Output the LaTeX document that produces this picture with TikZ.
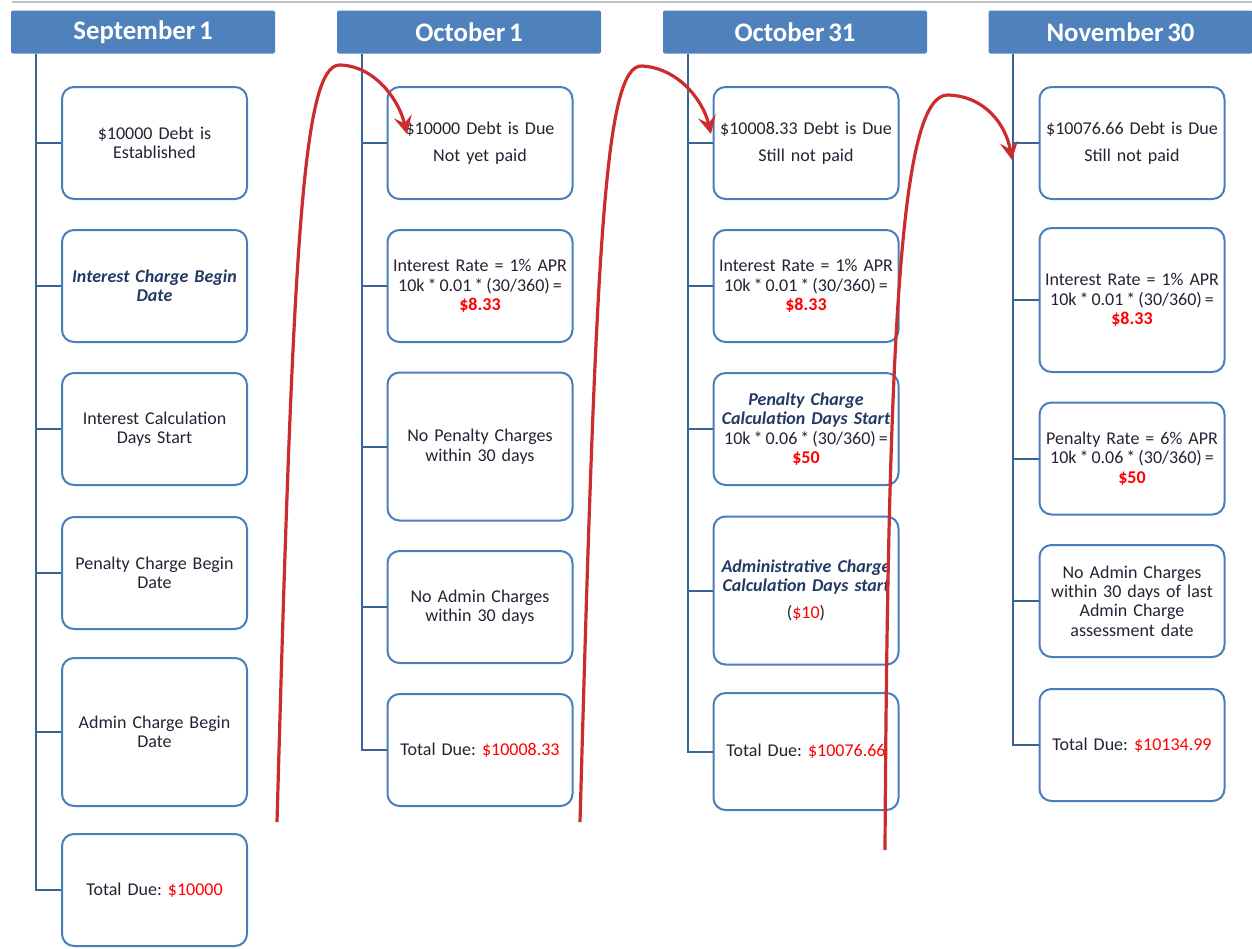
\documentclass[tikz,border=0pt]{standalone}
\usepackage{fontspec}
\setmainfont{Carlito}[WordSpace=0.6]
\usetikzlibrary{arrows.meta}
\frenchspacing

\definecolor{hdrblue}{RGB}{79,129,189}
\definecolor{boxblue}{RGB}{74,126,187}
\definecolor{spineblue}{RGB}{59,100,150}
\definecolor{txtdark}{RGB}{38,34,52}
\definecolor{itblue}{RGB}{35,58,100}
\definecolor{amtred}{RGB}{255,0,0}
\definecolor{curvered}{RGB}{204,44,44}

\newcommand{\amt}[1]{\textcolor{amtred}{\textbf{#1}}}
\newcommand{\total}[1]{Total Due: \textcolor{amtred}{#1}}
\newcommand{\itnote}[1]{{\bfseries\itshape\color{itblue}#1}}
\newcommand{\fitline}[1]{\makebox[\linewidth]{#1}}
\newcommand{\rateline}[1]{\fitline{10k\,*\,#1\,*\,(30/360)\,=}}

\begin{document}
\begin{tikzpicture}[x=0.5pt,y=-0.5pt,
    datehead/.style={fill=hdrblue, rounded corners=1pt, minimum width=132pt,
      minimum height=21.5pt, inner sep=0pt, text=white,
      font=\fontsize{13.4}{15}\selectfont\bfseries},
    infobox/.style={draw=boxblue, line width=1pt, rounded corners=6pt, fill=white,
      minimum width=92.5pt, minimum height=56pt, text width=90pt, inner sep=0.5pt,
      align=center, text=txtdark, font=\fontsize{9}{9.7}\selectfont},
    tallbox/.style={infobox, minimum height=74pt},
    spine/.style={draw=spineblue, line width=1pt},
    payarrow/.style={draw=curvered, line width=1.6pt,
      -{Stealth[length=9pt,width=9pt,inset=3.5pt]}}]
  \useasboundingbox (0,0) rectangle (1252,948);
  \draw[black!25, line width=0.6pt] (12,2) -- (1252,2);

  % date headers
  \node[datehead] (sep) at (143,32) {September 1};
  \node[datehead] (oct) at (469,32) {October 1};
  \node[datehead] (octb) at (795,32) {October 31};
  \node[datehead] (nov) at (1120.5,32) {November 30};

  % September 1
  \node[infobox] (s1) at (154.5,143) {\$10000 Debt is\\Established};
  \node[infobox] (s2) at (154.5,286) {\itnote{Interest Charge Begin\\Date}};
  \node[infobox] (s3) at (154.5,429) {Interest Calculation\\Days Start};
  \node[infobox] (s4) at (154.5,573) {Penalty Charge Begin\\Date};
  \node[tallbox] (s5) at (154.5,732) {Admin Charge Begin\\Date};
  \node[infobox] (s6) at (154.5,890) {\total{\$10000}};

  % October 1
  \node[infobox] (o1) at (480,143) {\$10000 Debt is Due\\[4pt]Not yet paid};
  \node[infobox] (o2) at (480,286) {\fitline{Interest Rate = 1\% APR}\\\rateline{0.01}\\\amt{\$8.33}};
  \node[tallbox] (o3) at (480,446.5) {No Penalty Charges\\within 30 days};
  \node[infobox] (o4) at (480,607) {No Admin Charges\\within 30 days};
  \node[infobox] (o5) at (480,750) {\total{\$10008.33}};

  % October 31
  \node[infobox] (t1) at (806,143) {\$10008.33 Debt is Due\\[4pt]Still not paid};
  \node[infobox] (t2) at (806,286) {\fitline{Interest Rate = 1\% APR}\\\rateline{0.01}\\\amt{\$8.33}};
  \node[infobox] (t3) at (806,429) {\itnote{Penalty Charge\\\fitline{Calculation Days Start}}\\\rateline{0.06}\\\amt{\$50}};
  \node[tallbox] (t4) at (806,590.5) {\itnote{\fitline{Administrative Charge}\\\fitline{Calculation Days start}}\\[4pt](\textcolor{amtred}{\$10})};
  \node[infobox, minimum height=58.5pt] (t5) at (806,751.5) {\total{\$10076.66}};

  % November 30
  \node[infobox] (n1) at (1132,143) {\$10076.66 Debt is Due\\[4pt]Still not paid};
  \node[infobox, minimum height=72pt] (n2) at (1132,300) {\fitline{Interest Rate = 1\% APR}\\\rateline{0.01}\\\amt{\$8.33}};
  \node[infobox] (n3) at (1132,458.5) {\fitline{Penalty Rate = 6\% APR}\\\rateline{0.06}\\\amt{\$50}};
  \node[infobox] (n4) at (1132,601) {No Admin Charges\\within 30 days of last\\Admin Charge\\assessment date};
  \node[infobox] (n5) at (1132,745) {\total{\$10134.99}};

  % spines
  \coordinate (sep top) at ([xshift=12.5pt]sep.south west);
  \coordinate (oct top) at ([xshift=12.5pt]oct.south west);
  \coordinate (octb top) at ([xshift=12.5pt]octb.south west);
  \coordinate (nov top) at ([xshift=12.5pt]nov.south west);
  \foreach \b in {s1,s2,s3,s4,s5,s6} \draw[spine] (sep top) |- (\b.west);
  \foreach \b in {o1,o2,o3,o4,o5} \draw[spine] (oct top) |- (\b.west);
  \foreach \b in {t1,t2,t3,t4,t5} \draw[spine] (octb top) |- (\b.west);
  \foreach \b in {n1,n2,n3,n4,n5} \draw[spine] (nov top) |- (\b.west);

  % carry-over arrows
  \coordinate (c1 foot) at (277,822);
  \coordinate (c1 tip) at (407,134);
  \coordinate (c2 foot) at (580,822);
  \coordinate (c2 tip) at (711,134);
  \coordinate (c3 foot) at (885,850);
  \coordinate (c3 tip) at (1012,160);
  \draw[payarrow] (c1 foot) .. controls (293,250) and (302,64) .. (340,65)
    .. controls (375,66) and (399,100) .. (c1 tip);
  \draw[payarrow] (c2 foot) .. controls (596,250) and (604,64) .. (642,66)
    .. controls (678,68) and (703,100) .. (c2 tip);
  \draw[payarrow] (c3 foot) .. controls (888,300) and (903,94) .. (948,95)
    .. controls (985,96) and (1006,125) .. (c3 tip);
\end{tikzpicture}
\end{document}
